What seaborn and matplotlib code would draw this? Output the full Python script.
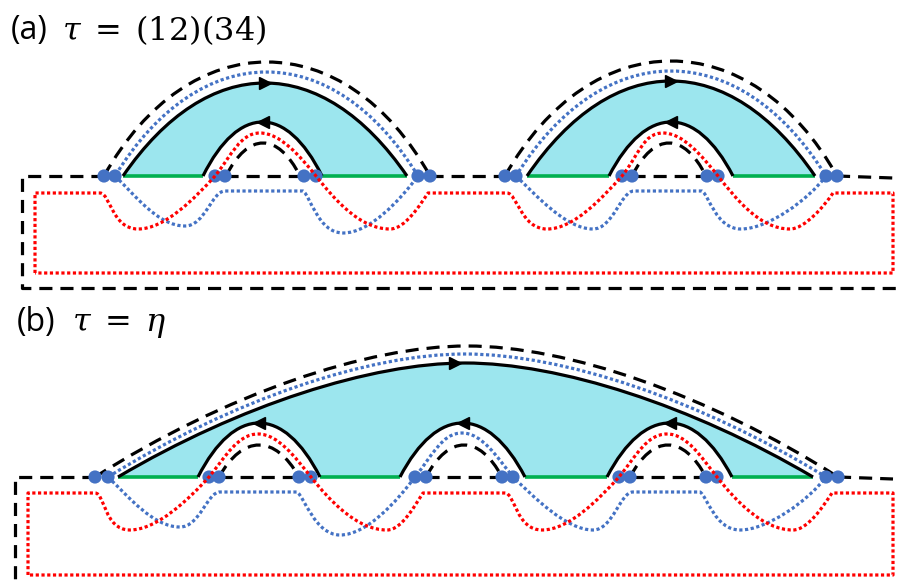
"""Seaborn/Matplotlib 重绘：置换 τ 的弧线结构示意图。

(a) τ = (12)(34)：两组独立的双层拱形；
(b) τ = η：一个大拱包住三个小拱。
坐标直接用像素（y 向下），画布 898x585。
"""

import matplotlib

matplotlib.use("Agg")

import matplotlib.pyplot as plt
import pandas as pd
import seaborn as sns
from matplotlib.patches import PathPatch
from matplotlib.path import Path

# ── panel (a) ──
A_BASE = 176
A_DOTS = [104, 115, 215, 225, 304, 316, 418, 430, 505, 516, 622, 632, 707, 718, 826, 837]
A_GREEN = [(123, 203), (322, 407), (527, 609), (733, 815)]
A_DASH_BASE = [(225, 304), (430, 505), (632, 707)]
A_OUTER_SOLID = [(123, 407, 93), (527, 815, 95)]
A_OUTER_BLUE = [(115, 418, 104), (516, 826, 105)]
A_OUTER_DASH = [(104, 430, 114), (505, 837, 115)]
A_INNER_SOLID = [(203, 322), (609, 733)]
A_INNER_DASH = [(226, 300), (632, 706)]
A_RED = [(100, 138, 215, 260, 316, 390, 428), (507, 547, 622, 663, 718, 790, 833)]
A_BLUE_LOW = [(115, 185, 225, 303, 343, 418), (516, 593, 634, 702, 741, 826)]
A_BLUE_DEPTH = [(50, 57), (53, 53)]
A_FRAME = [(104, 176), (22, 176), (22, 288), (898, 288)]
A_RED_BOX = (35, 893, 273)

# ── panel (b) ──
B_BASE = 477
B_DOTS = [95, 108, 209, 219, 299, 311, 415, 426, 502, 513, 619, 630, 706, 717, 826, 838]
B_GREEN = [(118, 198), (320, 400), (525, 607), (732, 813)]
B_DASH_BASE = [(219, 299), (426, 502), (630, 706)]
B_OUTER_SOLID = (118, 813, 465, 114)
B_OUTER_BLUE = (108, 826, 465, 123)
B_OUTER_DASH = (95, 838, 467, 131)
B_INNER_SOLID = [(198, 320), (400, 525), (607, 732)]
B_INNER_DASH = [(219, 299), (426, 502), (630, 706)]
B_RED = [(95, 130, 209, 258, 311, 387, 423), (505, 542, 619, 667, 717, 793, 832)]
B_BLUE_CROSS = (415, 462, 513)
B_BLUE_LOW = [(108, 180, 220, 297, 340, 415), (513, 593, 633, 700, 740, 826)]
B_BLUE_DEPTH = [(50, 58), (53, 53)]
B_FRAME = [(95, 477), (15, 477), (15, 590)]
B_RED_BOX = (28, 893, 575)

LABELS = [
    ("(a)", r"$\tau\;=\;(12)(34)$", 11, 62, 31),
    ("(b)", r"$\tau\;=\;\eta$", 17, 72, 323),
]

# ── styles ──
_FIG_W, _FIG_H, _DPI = 898, 585, 100
_FILL = "#9CE6EE"
_BLUE = "#4472C4"
_RED = "#FF0000"
_GREEN = "#00B050"
_LW = 2.3
_DASHED = (0, (4.1, 2.5))
_DOTTED = (0, (1.0, 0.8))


class _Pen:
    def __init__(self, x, y):
        self.verts = [(x, y)]
        self.codes = [Path.MOVETO]

    def line(self, *pts):
        for p in pts:
            self.verts.append(p)
            self.codes.append(Path.LINETO)

    def curve(self, *pts):
        for p in pts:
            self.verts.append(p)
            self.codes.append(Path.CURVE4)

    def path(self):
        return Path(self.verts, self.codes)


def _arch(x0, x1, h, base, k=0.3):
    c = base - 4 * h / 3
    w = x1 - x0
    return [(x0, base), (x0 + k * w, c), (x1 - k * w, c), (x1, base)]


def _peak_arch(x0, x1, xp, h, base):
    yp = base - h
    l, r = xp - x0, x1 - xp
    return [(x0, base), (x0 + 0.35 * l, base - 0.63 * h), (xp - 0.27 * l, yp), (xp, yp),
            (xp + 0.27 * r, yp), (x1 - 0.35 * r, base - 0.63 * h), (x1, base)]


def _mid(pts):
    (x0, y0), (x1, y1), (x2, y2), (x3, y3) = pts
    return (x0 + 3 * x1 + 3 * x2 + x3) / 8, (y0 + 3 * y1 + 3 * y2 + y3) / 8


def _hump(pen, xd1, xp, xd2, base, peak):
    yp = base - peak
    pen.curve((xd1 + 17, base - 21), (xp - 20, yp), (xp, yp))
    pen.curve((xp + 20, yp), (xd2 - 16, base - 20), (xd2, base))


def _red_cross(pen, keys, base, depth=53, peak=43, flat=17):
    xs, xt1, xd1, xp, xd2, xt2, xe = keys
    ys, yt = base + flat, base + depth
    pen.line((xs, ys))
    pen.curve((xs + 10, ys), (xt1 - 26, yt), (xt1, yt))
    pen.curve((xt1 + 27, yt), (xd1 - 20, base + 22), (xd1, base))
    _hump(pen, xd1, xp, xd2, base, peak)
    pen.curve((xd2 + 19, base + 24), (xt2 - 30, yt), (xt2, yt))
    pen.curve((xt2 + 15, yt), (xe - 8, ys + 12), (xe, ys))


def _blue_low(pen, keys, base, depths, flat=15):
    xa, xt1, xf1, xf2, xt2, xb = keys
    d1, d2 = depths
    yf = base + flat
    pen.curve((xa + 20, base + 19), (xt1 - 27, base + d1), (xt1, base + d1))
    pen.curve((xt1 + 20, base + d1), (xf1 - 13, yf), (xf1, yf))
    pen.line((xf2, yf))
    pen.curve((xf2 + 7, yf + 4), (xt2 - 25, base + d2), (xt2, base + d2))
    pen.curve((xt2 + 27, base + d2), (xb - 18, base + 24), (xb, base))


def _stroke(ax, pen, color, style, lw=_LW, z=3):
    ax.add_patch(PathPatch(pen.path(), fill=False, edgecolor=color, lw=lw,
                           linestyle=style, capstyle="butt", joinstyle="round", zorder=z))


def _stroke_pts(ax, pts, color, style, z=3):
    pen = _Pen(*pts[0])
    pen.curve(*pts[1:])
    _stroke(ax, pen, color, style, z=z)


def _arrow(ax, pts, marker):
    x, y = _mid(pts)
    ax.plot([x], [y], marker=marker, ms=9, color="black", mec="black", zorder=6)


def _baseline(ax, base, green, dash_segs, right_end):
    for x0, x1 in green:
        ax.plot([x0, x1], [base, base], color=_GREEN, lw=_LW + 0.3, solid_capstyle="butt", zorder=2)
    for x0, x1 in dash_segs:
        ax.plot([x0, x1], [base, base], color="black", lw=_LW, linestyle=_DASHED, zorder=3)
    ax.plot([right_end, 893], [base, base + 2], color="black", lw=_LW, linestyle=_DASHED, zorder=3)


def _draw_panel_a(ax):
    b = A_BASE
    for outer, inner in zip(A_OUTER_SOLID, A_INNER_SOLID):
        o = _arch(outer[0], outer[1], outer[2], b)
        i = _arch(inner[0], inner[1], 54, b, k=0.3)
        fill = _Pen(*o[0])
        fill.curve(*o[1:])
        fill.line(i[3])
        fill.curve(i[2], i[1], i[0])
        fill.line(o[0])
        ax.add_patch(PathPatch(fill.path(), facecolor=_FILL, edgecolor="none", zorder=1))
        _stroke_pts(ax, o, "black", "solid")
        _stroke_pts(ax, i, "black", "solid")
        _arrow(ax, o, ">")
        _arrow(ax, i, "<")

    for x0, x1, h in A_OUTER_DASH:
        _stroke_pts(ax, _arch(x0, x1, h, b, k=0.26), "black", _DASHED)
    for x0, x1 in A_INNER_DASH:
        _stroke_pts(ax, _arch(x0, x1, 33, b, k=0.3), "black", _DASHED)

    for (x0, x1, h), keys, depth in zip(A_OUTER_BLUE, A_BLUE_LOW, A_BLUE_DEPTH):
        pen = _Pen(keys[0], b)
        _blue_low(pen, keys, b, depth)
        arch = _arch(x0, x1, h, b, k=0.28)
        pen.curve(arch[2], arch[1], arch[0])
        _stroke(ax, pen, _BLUE, _DOTTED, z=5)

    left, right, bottom = A_RED_BOX
    pen = _Pen(left, bottom)
    pen.line((left, b + 17))
    for keys in A_RED:
        _red_cross(pen, keys, b)
    pen.line((right, b + 17), (right, bottom), (left, bottom))
    _stroke(ax, pen, _RED, _DOTTED, z=5)

    xs, ys = zip(*A_FRAME)
    ax.plot(xs, ys, color="black", lw=_LW, linestyle=_DASHED, zorder=3)
    _baseline(ax, b, A_GREEN, A_DASH_BASE, A_DOTS[-1])


def _draw_panel_b(ax):
    b = B_BASE
    o = _peak_arch(*B_OUTER_SOLID, b)
    inners = [_arch(x0, x1, 54, b, k=0.3) for x0, x1 in B_INNER_SOLID]
    fill = _Pen(*o[0])
    fill.curve(*o[1:])
    for i in reversed(inners):
        fill.line(i[3])
        fill.curve(i[2], i[1], i[0])
    fill.line(o[0])
    ax.add_patch(PathPatch(fill.path(), facecolor=_FILL, edgecolor="none", zorder=1))
    _stroke_pts(ax, o, "black", "solid")
    ax.plot([o[3][0] - 10], [o[3][1]], marker=">", ms=9, color="black", zorder=6)
    for i in inners:
        _stroke_pts(ax, i, "black", "solid")
        _arrow(ax, i, "<")

    _stroke_pts(ax, _peak_arch(*B_OUTER_DASH, b), "black", _DASHED)
    for x0, x1 in B_INNER_DASH:
        _stroke_pts(ax, _arch(x0, x1, 32, b, k=0.3), "black", _DASHED)

    pen = _Pen(B_BLUE_LOW[0][0], b)
    _blue_low(pen, B_BLUE_LOW[0], b, B_BLUE_DEPTH[0])
    _hump(pen, *B_BLUE_CROSS, b, 44)
    _blue_low(pen, B_BLUE_LOW[1], b, B_BLUE_DEPTH[1])
    blue = _peak_arch(*B_OUTER_BLUE, b)
    pen.curve(*blue[-2::-1])
    _stroke(ax, pen, _BLUE, _DOTTED, z=5)

    left, right, bottom = B_RED_BOX
    pen = _Pen(left, bottom)
    pen.line((left, b + 16))
    for keys in B_RED:
        _red_cross(pen, keys, b, flat=16)
    pen.line((right, b + 16), (right, bottom), (left, bottom))
    _stroke(ax, pen, _RED, _DOTTED, z=5)

    xs, ys = zip(*B_FRAME)
    ax.plot(xs, ys, color="black", lw=_LW, linestyle=_DASHED, zorder=3)
    _baseline(ax, b, B_GREEN, B_DASH_BASE, B_DOTS[-1])


def main():
    sns.set_theme(style="white")
    plt.rcParams["font.family"] = ["Open Sans", "DejaVu Sans"]
    plt.rcParams["mathtext.fontset"] = "dejavuserif"

    fig = plt.figure(figsize=(_FIG_W / _DPI, _FIG_H / _DPI), dpi=_DPI)
    ax = fig.add_axes([0, 0, 1, 1])

    _draw_panel_a(ax)
    _draw_panel_b(ax)

    dots = pd.DataFrame({
        "x": A_DOTS + B_DOTS,
        "y": [A_BASE] * len(A_DOTS) + [B_BASE] * len(B_DOTS),
    })
    sns.scatterplot(data=dots, x="x", y="y", ax=ax, color=_BLUE, s=90,
                    edgecolor="none", zorder=4, legend=False)

    for tag, formula, x_tag, x_formula, y in LABELS:
        ax.text(x_tag, y, tag, fontsize=23, va="center", ha="left", color="black")
        ax.text(x_formula, y, formula, fontsize=23, va="center", ha="left", color="black")

    ax.set_xlim(0, _FIG_W)
    ax.set_ylim(_FIG_H, 0)
    ax.axis("off")
    fig.savefig("out.png", dpi=_DPI, facecolor="white")
    plt.close(fig)


if __name__ == "__main__":
    main()
